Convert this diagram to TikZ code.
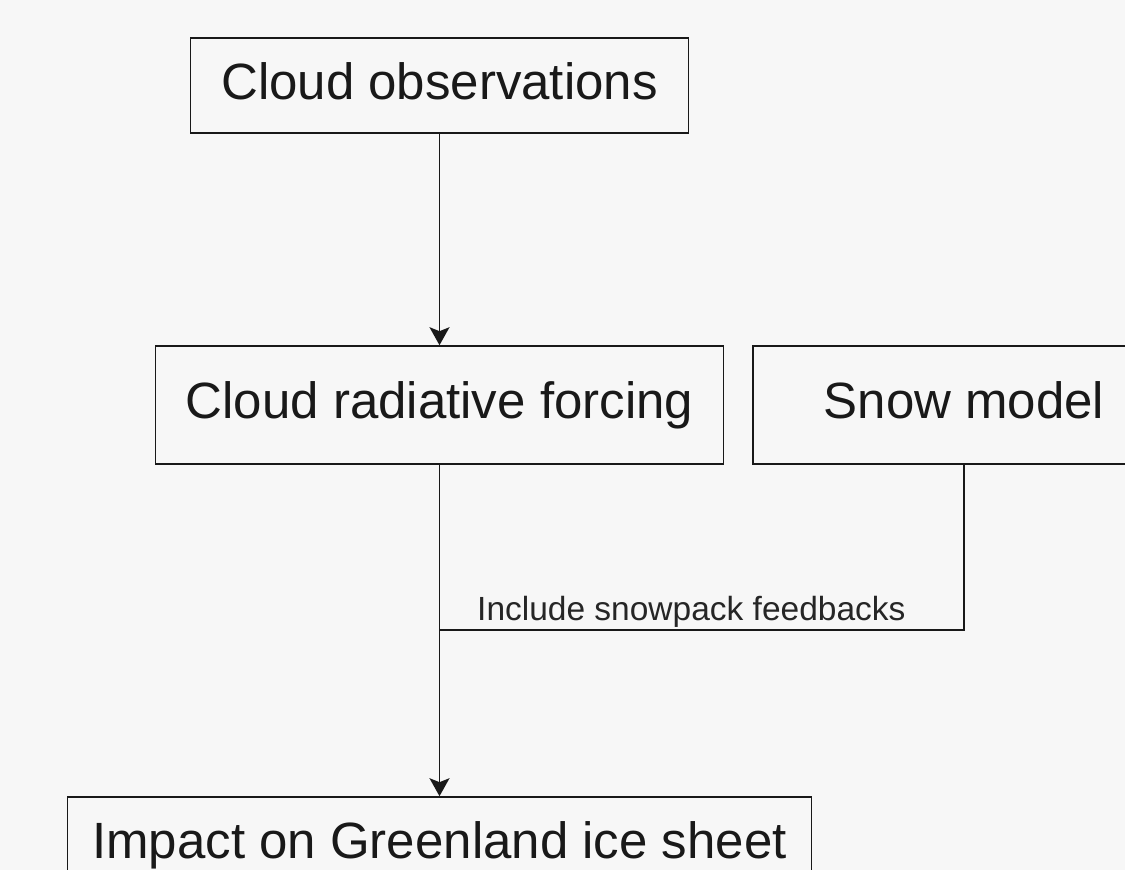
\documentclass[tikz,border=0pt]{standalone}
\usepackage{fontspec}
\setmainfont{Liberation Sans}
\usetikzlibrary{arrows.meta}
\begin{document}
\begin{tikzpicture}[x=1pt,y=-1pt,
  boxnode/.style={draw=black!90, line width=1.6pt, inner sep=0pt, font=\fontsize{51}{60}\selectfont, text=black!90, text height=36.5pt, text depth=9pt},
  conn/.style={draw=black!90, line width=1.6pt},
  arr/.style={conn, -{Stealth[length=18pt,width=20pt,inset=4pt]}},
  lbl/.style={inner sep=0pt, font=\fontsize{33.5}{40}\selectfont, text=black!85}]
\useasboundingbox (0,0) rectangle (1125,870);
\clip (0,0) rectangle (1125,870);
\fill[black!3] (0,0) rectangle (1125,870);
\node[boxnode, minimum width=498pt, minimum height=95pt] (obs) at (439.5,85.5) {Cloud observations};
\node[boxnode, minimum width=568pt, minimum height=118pt] (crf) at (439.5,405) {Cloud radiative forcing};
\node[boxnode, minimum width=422pt, minimum height=118pt] (snow) at (964,405) {Snow model};
\node[boxnode, minimum width=744pt, minimum height=96pt] (imp) at (439.5,845) {Impact on Greenland ice sheet};
\coordinate (j) at (439.5,630);
\draw[arr] (obs.south) -- (crf.north);
\draw[arr] (crf.south) -- (imp.north);
\draw[conn] (snow.south) |- (j);
\node[lbl, anchor=base west] (fb) at (477,620) {Include snowpack feedbacks};
\end{tikzpicture}
\end{document}
